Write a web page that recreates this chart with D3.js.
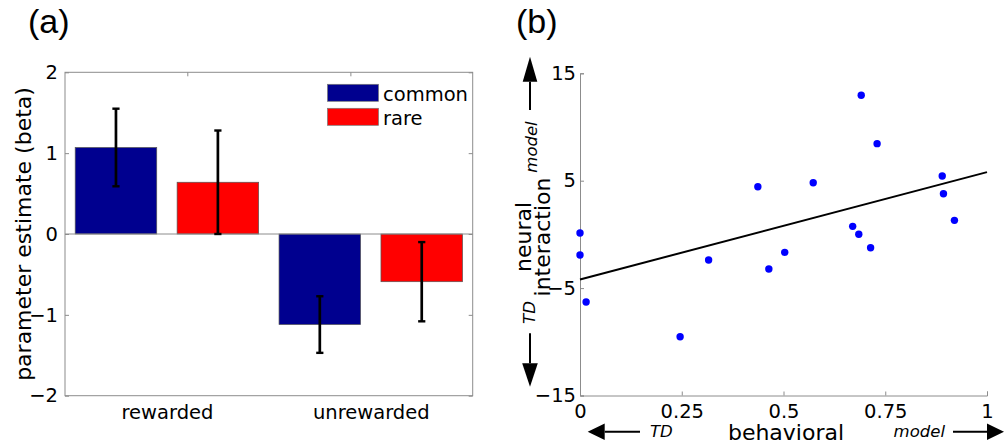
<!DOCTYPE html>
<html>
<head>
<meta charset="utf-8">
<script src="https://cdn.jsdelivr.net/npm/d3@7"></script>
<style>
  html, body { margin: 0; padding: 0; background: #fff; }
  svg { display: block; font-family: "DejaVu Sans", sans-serif; }
</style>
</head>
<body>
<svg id="chart" width="1005" height="448"></svg>
<script>
// ---------- Data: panel (a) ----------
const categories = ["rewarded", "unrewarded"];
const seriesNames = ["common", "rare"];
const seriesColors = ["#00008F", "#FF0000"];
const commonValues = [1.07, -1.12];
const rareValues = [0.64, -0.59];
const commonErrors = [0.48, 0.35];
const rareErrors = [0.64, 0.49];
const yTicksA = [-2, -1, 0, 1, 2];
const topTicksA = [1.1, 1.9];

// ---------- Data: panel (b) ----------
const behavioral = [0.691, 0.730, 0.437, 0.573, 0.890, 0.893, 0.920, 0.0, 0.0, 0.015,
                    0.246, 0.316, 0.464, 0.503, 0.670, 0.685, 0.714];
const neural = [12.95, 8.45, 4.44, 4.81, 5.44, 3.79, 1.31, 0.13, -1.92, -6.29,
                -9.53, -2.38, -3.22, -1.67, 0.75, 0.01, -1.24];
const fitX = [0, 1];
const fitY = [-4.2, 5.8];
const xTicksB = [0, 0.25, 0.5, 0.75, 1];
const xTickLabelsB = ["0", "0.25", "0.5", "0.75", "1"];
const yTicksB = [-15, -5, 5, 15];

const svg = d3.select("#chart");
const axisGray = "#8c8c8c";
const fs = 19.5;

// ================= Panel (a) =================
const A = { left: 65, right: 472.7, top: 72.3, bottom: 395.7 };
const xA = d3.scaleLinear().domain([0.5, 2.5]).range([A.left, A.right]);
const yA = d3.scaleLinear().domain([-2, 2]).range([A.bottom, A.top]);
const gA = svg.append("g");

svg.append("text").attr("x", 28).attr("y", 33)
  .style("font-family", "'Liberation Sans', Arial, sans-serif")
  .style("font-size", "34px").text("(a)");

// bars
const barW = 0.4;
const barData = [];
categories.forEach((c, i) => {
  [commonValues, rareValues].forEach((vals, s) => {
    const errs = s === 0 ? commonErrors : rareErrors;
    barData.push({ cat: i + 1, s, v: vals[i], e: errs[i] });
  });
});
const center = d => d.cat + (d.s - 0.5) * 0.5;

gA.selectAll("rect.bar").data(barData).enter().append("rect")
  .attr("class", "bar")
  .attr("x", d => xA(center(d) - barW / 2))
  .attr("width", d => xA(center(d) + barW / 2) - xA(center(d) - barW / 2))
  .attr("y", d => yA(Math.max(0, d.v)))
  .attr("height", d => Math.abs(yA(d.v) - yA(0)))
  .attr("fill", d => seriesColors[d.s])
  .attr("stroke", "#555").attr("stroke-width", 0.7);

// zero line
gA.append("line").attr("x1", A.left).attr("x2", A.right)
  .attr("y1", yA(0)).attr("y2", yA(0))
  .attr("stroke", axisGray).attr("stroke-width", 1);

// error bars
const eb = gA.selectAll("g.eb").data(barData).enter().append("g");
eb.append("line")
  .attr("x1", d => xA(center(d))).attr("x2", d => xA(center(d)))
  .attr("y1", d => yA(d.v - d.e)).attr("y2", d => yA(d.v + d.e))
  .attr("stroke", "#000").attr("stroke-width", 2.7);
[-1, 1].forEach(sg => {
  eb.append("line")
    .attr("x1", d => xA(center(d)) - 3.6).attr("x2", d => xA(center(d)) + 3.6)
    .attr("y1", d => yA(d.v + sg * d.e)).attr("y2", d => yA(d.v + sg * d.e))
    .attr("stroke", "#000").attr("stroke-width", 2.4);
});

// box
gA.append("rect").attr("x", A.left).attr("y", A.top)
  .attr("width", A.right - A.left).attr("height", A.bottom - A.top)
  .attr("fill", "none").attr("stroke", axisGray).attr("stroke-width", 1);

// y axis (left) with inward ticks, and right ticks
const yAxisA = d3.axisLeft(yA).tickValues(yTicksA).tickSize(-4).tickPadding(7)
  .tickFormat(d => d < 0 ? "\u2212" + Math.abs(d) : String(d));
const gyA = gA.append("g").attr("transform", `translate(${A.left},0)`).call(yAxisA);
gyA.select(".domain").remove();
gyA.selectAll(".tick line").attr("stroke", axisGray);
gyA.selectAll(".tick text").style("font-size", fs + "px").style("font-family", "DejaVu Sans").attr("fill", "#000");

const yAxisAR = d3.axisRight(yA).tickValues(yTicksA).tickSize(-4).tickFormat("");
const gyAR = gA.append("g").attr("transform", `translate(${A.right},0)`).call(yAxisAR);
gyAR.select(".domain").remove();
gyAR.selectAll(".tick line").attr("stroke", axisGray);

// x axis labels
const xAxisA = d3.axisBottom(xA).tickValues([1, 2]).tickSize(0).tickPadding(9)
  .tickFormat((d, i) => categories[i]);
const gxA = gA.append("g").attr("transform", `translate(0,${A.bottom})`).call(xAxisA);
gxA.select(".domain").remove();
gxA.selectAll(".tick text").style("font-size", fs + "px").style("font-family", "DejaVu Sans").attr("fill", "#000");

// top ticks
const xAxisAT = d3.axisTop(xA).tickValues(topTicksA).tickSize(-4).tickFormat("");
const gxAT = gA.append("g").attr("transform", `translate(0,${A.top})`).call(xAxisAT);
gxAT.select(".domain").remove();
gxAT.selectAll(".tick line").attr("stroke", axisGray);

// y label
gA.append("text")
  .attr("transform", `translate(31,${(A.top + A.bottom) / 2}) rotate(-90)`)
  .attr("text-anchor", "middle").style("font-size", "22px")
  .text("parameter estimate (beta)");

// legend
const leg = gA.append("g");
seriesNames.forEach((n, i) => {
  leg.append("rect").attr("x", 327.5).attr("y", 84.3 + i * 24)
    .attr("width", 51).attr("height", 17)
    .attr("fill", seriesColors[i]).attr("stroke", "#777").attr("stroke-width", 0.7);
  leg.append("text").attr("x", 383).attr("y", 100.5 + i * 24)
    .style("font-size", fs + "px").text(n);
});

// ================= Panel (b) =================
const B = { left: 580, right: 987, top: 73.3, bottom: 395.5 };
const xB = d3.scaleLinear().domain([0, 1]).range([B.left, B.right]);
const yB = d3.scaleLinear().domain([-15, 15]).range([B.bottom, B.top]);
const gB = svg.append("g");

svg.append("text").attr("x", 516).attr("y", 33)
  .style("font-family", "'Liberation Sans', Arial, sans-serif")
  .style("font-size", "34px").text("(b)");

// axes
const xAxisB = d3.axisBottom(xB).tickValues(xTicksB).tickSize(-4).tickPadding(9)
  .tickFormat((d, i) => xTickLabelsB[i]);
const gxB = gB.append("g").attr("transform", `translate(0,${B.bottom})`).call(xAxisB);
gxB.select(".domain").attr("stroke", axisGray);
gxB.selectAll(".tick line").attr("stroke", axisGray);
gxB.selectAll(".tick text").style("font-size", fs + "px").style("font-family", "DejaVu Sans").attr("fill", "#000");

const yAxisB = d3.axisLeft(yB).tickValues(yTicksB).tickSize(-4).tickPadding(4)
  .tickFormat(d => d < 0 ? "\u2212" + Math.abs(d) : String(d));
const gyB = gB.append("g").attr("transform", `translate(${B.left},0)`).call(yAxisB);
gyB.select(".domain").attr("stroke", axisGray);
gyB.selectAll(".tick line").attr("stroke", axisGray);
gyB.selectAll(".tick text").style("font-size", fs + "px").style("font-family", "DejaVu Sans").attr("fill", "#000");

// fit line
const line = d3.line().x(d => xB(d[0])).y(d => yB(d[1]));
gB.append("path").datum(d3.zip(fitX, fitY)).attr("d", line)
  .attr("fill", "none").attr("stroke", "#000").attr("stroke-width", 2);

// points
gB.selectAll("circle").data(d3.zip(behavioral, neural)).enter().append("circle")
  .attr("cx", d => xB(d[0])).attr("cy", d => yB(d[1])).attr("r", 3.7)
  .attr("fill", "#0000FF");

// x label and arrows
gB.append("text").attr("x", 786).attr("y", 440).attr("text-anchor", "middle")
  .style("font-size", "22px").text("behavioral");
gB.append("text").attr("x", 650).attr("y", 437).style("font-size", "16.5px")
  .style("font-style", "italic").text("TD");
gB.append("text").attr("x", 945).attr("y", 437).attr("text-anchor", "end")
  .style("font-size", "16.5px").style("font-style", "italic").text("model");

function hArrow(x0, x1, y, headLen, half) {
  const dir = Math.sign(x1 - x0);
  const base = x1 - dir * headLen;
  gB.append("line").attr("x1", x0).attr("x2", base).attr("y1", y).attr("y2", y)
    .attr("stroke", "#000").attr("stroke-width", 2);
  gB.append("path").attr("d", `M${x1},${y} L${base},${y - half} L${base},${y + half} Z`).attr("fill", "#000");
}
function vArrow(y0, y1, x, headLen, half) {
  const dir = Math.sign(y1 - y0);
  const base = y1 - dir * headLen;
  gB.append("line").attr("x1", x).attr("x2", x).attr("y1", y0).attr("y2", base)
    .attr("stroke", "#000").attr("stroke-width", 2);
  gB.append("path").attr("d", `M${x},${y1} L${x - half},${base} L${x + half},${base} Z`).attr("fill", "#000");
}
hArrow(640, 587.7, 431.7, 17, 8.3);
hArrow(953, 1004, 431.7, 17, 8.3);
vArrow(110, 56.7, 530, 25, 7.3);
vArrow(333.3, 386.7, 530, 23.5, 7.8);

// y label
gB.append("text").attr("transform", `translate(531,237) rotate(-90)`)
  .attr("text-anchor", "middle").style("font-size", "22px").text("neural");
gB.append("text").attr("transform", `translate(550,237) rotate(-90)`)
  .attr("text-anchor", "middle").style("font-size", "22px").text("interaction");
gB.append("text").attr("transform", `translate(537,147) rotate(-90)`)
  .attr("text-anchor", "middle").style("font-size", "16.5px").style("font-style", "italic").text("model");
gB.append("text").attr("transform", `translate(535,312.5) rotate(-90)`)
  .attr("text-anchor", "middle").style("font-size", "16.5px").style("font-style", "italic").text("TD");
</script>
</body>
</html>
